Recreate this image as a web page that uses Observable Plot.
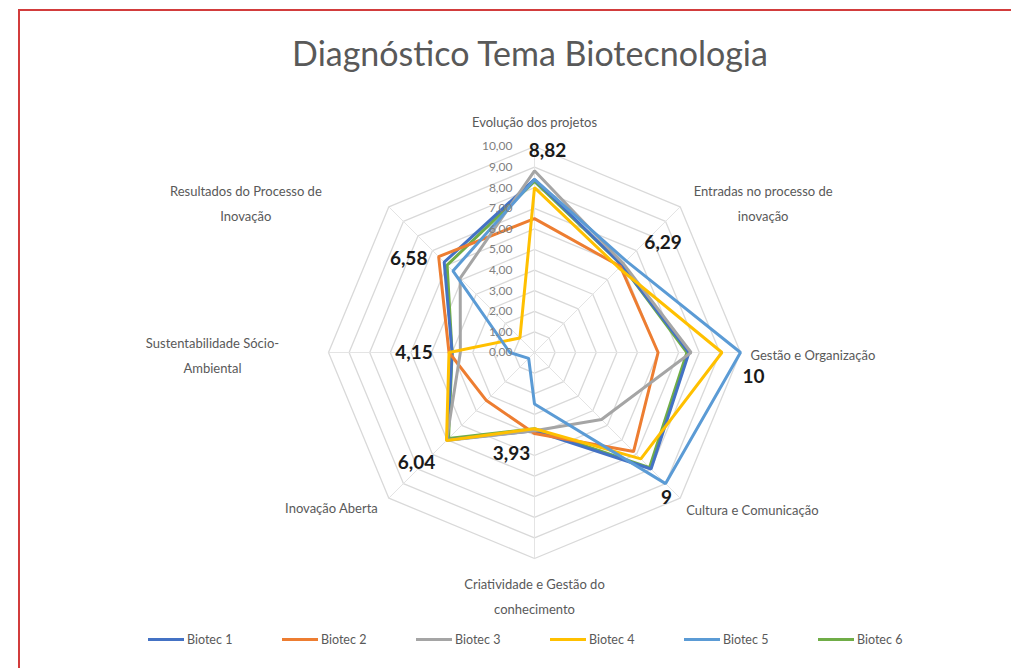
<!DOCTYPE html>
<html>
<head>
<meta charset="utf-8">
<script src="https://cdn.jsdelivr.net/npm/d3@7"></script>
<script src="https://cdn.jsdelivr.net/npm/@observablehq/plot@0.6"></script>
<style>
  body { margin: 0; background: #fff; font-family: Lato, "Open Sans", sans-serif; }
  #wrap { position: relative; width: 1011px; height: 668px; overflow: hidden; background: #fff; }
  #frame { position: absolute; left: 18px; top: 9px; width: 1100px; height: 800px;
           border-top: 2px solid #d23c3c; border-left: 2px solid #d23c3c; }
  #chart { position: absolute; left: 0; top: 0; }
  #title { position: absolute; top: 32px; left: 230px; width: 600px; text-align: center;
           font-size: 34px; color: #595959; font-family: Lato, sans-serif; }
  #legend { position: absolute; top: 632px; left: 148px; display: flex; }
  .item { width: 134px; display: flex; align-items: center; font-size: 12.5px; color: #595959; }
  .swatch { width: 36px; height: 3px; margin-right: 3px; }
</style>
</head>
<body>
<div id="wrap">
  <div id="frame"></div>
  <div id="chart"></div>
  <div id="title">Diagnóstico Tema Biotecnologia</div>
  <div id="legend"></div>
</div>
<script>
// ---- data ----
const axes = [
  "Evolução dos projetos",
  "Entradas no processo de\ninovação",
  "Gestão e Organização",
  "Cultura e Comunicação",
  "Criatividade e Gestão do\nconhecimento",
  "Inovação Aberta",
  "Sustentabilidade Sócio-\nAmbiental",
  "Resultados do Processo de\nInovação"
];
const seriesNames = ["Biotec 1", "Biotec 2", "Biotec 3", "Biotec 4", "Biotec 5", "Biotec 6"];
const biotec1 = [8.4, 6.0, 7.5, 8.0, 3.8, 6.0, 4.0, 6.2];
const biotec2 = [6.5, 5.9, 6.0, 6.8, 3.93, 3.3, 4.15, 6.58];
const biotec3 = [8.82, 6.1, 7.6, 4.6, 3.8, 6.04, 3.6, 5.1];
const biotec4 = [8.0, 5.8, 9.1, 7.3, 3.7, 6.04, 4.15, 1.0];
const biotec5 = [8.4, 6.29, 10, 9, 2.5, 0.4, 1.2, 5.6];
const biotec6 = [8.3, 6.0, 7.4, 7.9, 3.7, 5.9, 4.0, 6.0];
const maxValues = [8.82, 6.29, 10, 9, 3.93, 6.04, 4.15, 6.58];
const maxLabels = ["8,82", "6,29", "10", "9", "3,93", "6,04", "4,15", "6,58"];
const tickValues = [0, 1, 2, 3, 4, 5, 6, 7, 8, 9, 10];
const tickLabels = ["0,00", "1,00", "2,00", "3,00", "4,00", "5,00", "6,00", "7,00", "8,00", "9,00", "10,00"];

// ---- styles / layout ----
const colors = ["#4472C4", "#ED7D31", "#A5A5A5", "#FFC000", "#5B9BD5", "#70AD47"];
const W = 1011, H = 628, CX = 534, CY = 352, PX = 20.6; // px per unit
const xDomain = [-CX / PX, (W - CX) / PX];
const yDomain = [-(H - CY) / PX, CY / PX];
const dataLabelOffsets = [[13, -20], [37, -18], [13, 24], [1, 14], [-23, 20], [-30, 22], [-35, 0], [-30, 2]];
const axisLabelPlace = [
  {dx: 0, dy: -27, anchor: "middle"},
  {dx: 83, dy: -6, anchor: "middle"},
  {dx: 10, dy: 0, anchor: "start"},
  {dx: 6, dy: 9, anchor: "start"},
  {dx: 0, dy: 35, anchor: "middle"},
  {dx: -11, dy: 7, anchor: "end"},
  {dx: -116, dy: 0, anchor: "middle"},
  {dx: -143, dy: -6, anchor: "middle"}
];

const ang = k => k * Math.PI / 4;
const px = (v, k) => v * Math.sin(ang(k));
const py = (v, k) => v * Math.cos(ang(k));

const allSeries = [biotec1, biotec2, biotec3, biotec4, biotec5, biotec6];
const pts = [];
// draw Biotec 6 first so it sits underneath
const order = [5, 0, 1, 2, 3, 4];
order.forEach(i => {
  allSeries[i].forEach((v, k) => pts.push({series: seriesNames[i], k, v, x: px(v, k), y: py(v, k)}));
});

const rings = [];
tickValues.filter(t => t > 0).forEach(t => axes.forEach((a, k) => rings.push({level: t, x: px(t, k), y: py(t, k)})));

const labelRows = axes.map((a, k) => ({
  text: a, k,
  x: px(10, k) + axisLabelPlace[k].dx / PX,
  y: py(10, k) - axisLabelPlace[k].dy / PX,
  anchor: axisLabelPlace[k].anchor
}));

const dataLabelRows = maxValues.map((v, k) => ({
  text: maxLabels[k],
  x: px(v, k) + dataLabelOffsets[k][0] / PX,
  y: py(v, k) - dataLabelOffsets[k][1] / PX
}));

const lineMarks = order.map(i =>
  Plot.line(pts.filter(d => d.series === seriesNames[i]), {
    x: "x", y: "y", stroke: "series", curve: "linear-closed", strokeWidth: 3, strokeLinejoin: "miter"
  })
);

const chart = Plot.plot({
  width: W, height: H, margin: 0,
  style: {fontFamily: "Lato, sans-serif", background: "transparent"},
  x: {domain: xDomain, range: [0, W], axis: null},
  y: {domain: yDomain, range: [H, 0], axis: null},
  color: {domain: seriesNames, range: colors},
  marks: [
    Plot.line(rings, {x: "x", y: "y", z: "level", curve: "linear-closed", stroke: "#d9d9d9", strokeWidth: 1.3}),
    Plot.link(axes, {x1: () => 0, y1: () => 0, x2: (d, k) => px(10, k), y2: (d, k) => py(10, k), stroke: "#e4e4e4", strokeWidth: 1}),
    ...lineMarks,
    Plot.text(tickValues, {x: () => 0, y: d => d, text: (d, i) => tickLabels[i], textAnchor: "end", dx: -22, fontSize: 12, fill: "#7f7f7f"}),
    ...["start", "middle", "end"].map(a =>
      Plot.text(labelRows.filter(d => d.anchor === a), {x: "x", y: "y", text: "text", textAnchor: a, fontSize: 13, fill: "#595959", lineHeight: 1.9})
    ),
    Plot.text(dataLabelRows, {x: "x", y: "y", text: "text", fontSize: 19, fontWeight: "bold", fill: "#1a1a1a"})
  ]
});
document.getElementById("chart").appendChild(chart);

const legend = document.getElementById("legend");
seriesNames.forEach((s, i) => {
  const it = document.createElement("div");
  it.className = "item";
  const sw = document.createElement("div");
  sw.className = "swatch";
  sw.style.background = colors[i];
  const t = document.createElement("span");
  t.textContent = s;
  it.appendChild(sw); it.appendChild(t);
  legend.appendChild(it);
});
</script>
</body>
</html>
